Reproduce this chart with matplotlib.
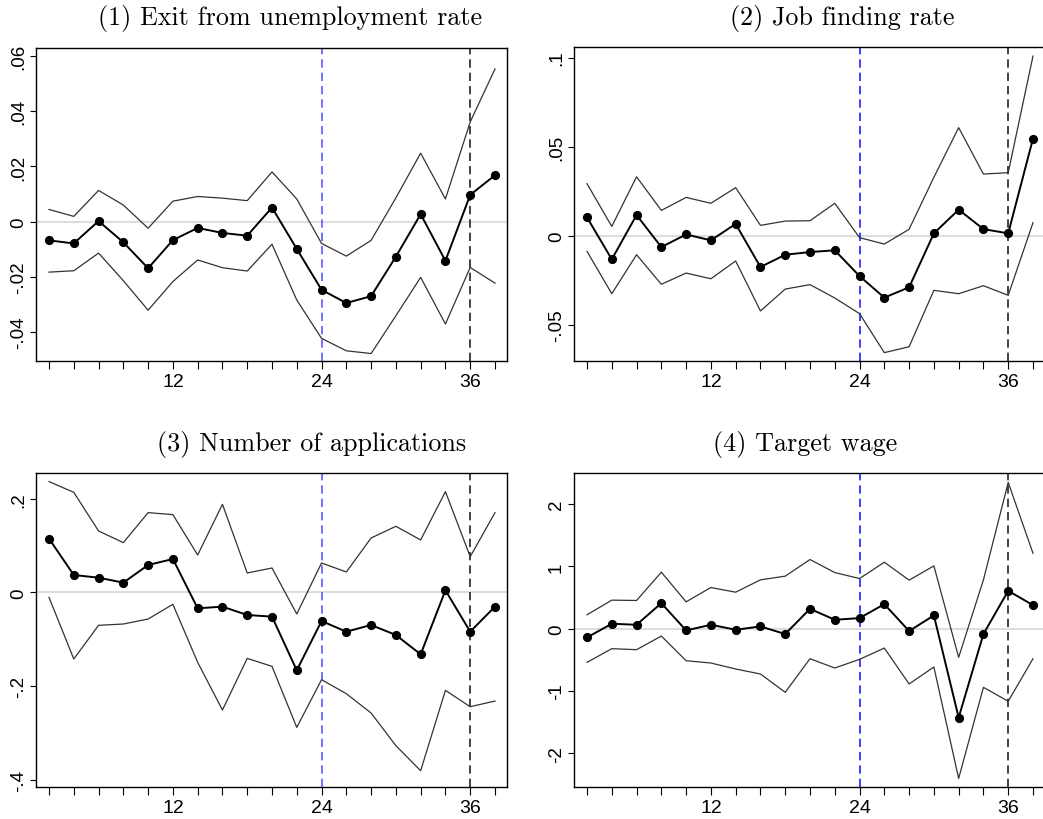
import matplotlib
matplotlib.use("Agg")
import matplotlib.pyplot as plt
import numpy as np

# months since start of unemployment
months = [2, 4, 6, 8, 10, 12, 14, 16, 18, 20, 22, 24, 26, 28, 30, 32, 34, 36, 38]

exit_coef = [-0.0068, -0.0079, 0.0002, -0.0075, -0.0169, -0.0067, -0.0023, -0.0041, -0.0051, 0.0051,
             -0.0099, -0.0247, -0.0295, -0.0270, -0.0127, 0.0027, -0.0142, 0.0097, 0.0168]
exit_hi = [0.0044, 0.0019, 0.0113, 0.0060, -0.0024, 0.0074, 0.0091, 0.0085, 0.0076, 0.0180,
           0.0082, -0.0079, -0.0125, -0.0068, 0.0086, 0.0248, 0.0082, 0.0361, 0.0553]
exit_lo = [-0.0183, -0.0178, -0.0114, -0.0214, -0.0321, -0.0217, -0.0139, -0.0167, -0.0179, -0.0082,
           -0.0284, -0.0423, -0.0468, -0.0478, -0.0341, -0.0202, -0.0371, -0.0166, -0.0223]

job_coef = [0.0103, -0.0133, 0.0116, -0.0064, 0.0007, -0.0026, 0.0066, -0.0176, -0.0107, -0.0092,
            -0.0082, -0.0227, -0.0348, -0.0290, 0.0013, 0.0146, 0.0037, 0.0013, 0.0545]
job_hi = [0.0292, 0.0052, 0.0331, 0.0142, 0.0215, 0.0182, 0.0270, 0.0058, 0.0082, 0.0084,
          0.0182, -0.0011, -0.0047, 0.0036, 0.0328, 0.0607, 0.0346, 0.0354, 0.1009]
job_lo = [-0.0088, -0.0326, -0.0107, -0.0273, -0.0210, -0.0242, -0.0142, -0.0423, -0.0300, -0.0275,
          -0.0350, -0.0438, -0.0657, -0.0624, -0.0307, -0.0326, -0.0281, -0.0335, 0.0073]

apps_coef = [0.1147, 0.0370, 0.0313, 0.0207, 0.0584, 0.0712, -0.0342, -0.0306, -0.0484, -0.0520,
             -0.1667, -0.0613, -0.0841, -0.0698, -0.0912, -0.1325, 0.0043, -0.0841, -0.0306]
apps_hi = [0.2366, 0.2137, 0.1311, 0.1062, 0.1703, 0.1660, 0.0798, 0.1881, 0.0413, 0.0520,
           -0.0463, 0.0627, 0.0435, 0.1161, 0.1411, 0.1119, 0.2152, 0.0762, 0.1703]
apps_lo = [-0.0107, -0.1425, -0.0705, -0.0677, -0.0570, -0.0256, -0.1496, -0.2515, -0.1411, -0.1582,
           -0.2886, -0.1867, -0.2166, -0.2579, -0.3277, -0.3812, -0.2095, -0.2444, -0.2323]

wage_coef = [-0.139, 0.080, 0.064, 0.411, -0.027, 0.064, -0.016, 0.037, -0.085, 0.320,
             0.144, 0.171, 0.395, -0.037, 0.214, -1.426, -0.085, 0.609, 0.379]
wage_hi = [0.224, 0.459, 0.454, 0.908, 0.432, 0.662, 0.587, 0.785, 0.844, 1.111,
           0.902, 0.806, 1.068, 0.780, 1.009, -0.459, 0.785, 2.349, 1.212]
wage_lo = [-0.539, -0.320, -0.336, -0.117, -0.513, -0.550, -0.646, -0.726, -1.020, -0.481,
           -0.630, -0.491, -0.310, -0.886, -0.614, -2.403, -0.940, -1.164, -0.481]

titles = ["(1) Exit from unemployment rate", "(2) Job finding rate",
          "(3) Number of applications", "(4) Target wage"]
ytick_vals = [[-0.04, -0.02, 0, 0.02, 0.04, 0.06], [-0.05, 0, 0.05, 0.1],
              [-0.4, -0.2, 0, 0.2], [-2, -1, 0, 1, 2]]
ytick_labels = [["-.04", "-.02", "0", ".02", ".04", ".06"], ["-.05", "0", ".05", ".1"],
                ["-.4", "-.2", "0", ".2"], ["-2", "-1", "0", "1", "2"]]
ylims = [(-0.0505, 0.0629), (-0.0704, 0.106), (-0.416, 0.255), (-2.54, 2.50)]
xlabel_ticks = [12, 24, 36]

series = [(exit_coef, exit_lo, exit_hi), (job_coef, job_lo, job_hi),
          (apps_coef, apps_lo, apps_hi), (wage_coef, wage_lo, wage_hi)]

W, H = 1043, 820
fig = plt.figure(figsize=(W / 100, H / 100), dpi=100)

# axes boxes in pixels: left, top, width, height
boxes = [(36, 49, 471, 313), (574, 48, 471, 314), (36, 474, 471, 314), (574, 474, 471, 314)]
title_pos = [(290, 18), (842, 18), (312, 445), (805, 445)]
blues = ["#5a5aff", "#2020ff", "#5a5aff", "#2020ff"]

for i in range(4):
	l, t, w, h = boxes[i]
	ax = fig.add_axes([l / W, 1 - (t + h) / H, w / W, h / H])
	coef, lo, hi = series[i]
	ax.axhline(0, color="#dddddd", lw=1.5, zorder=1)
	ax.axvline(24, color=blues[i], lw=1.2, ls=(0, (5, 3)), zorder=2)
	ax.axvline(36, color="#222222", lw=1.2, ls=(0, (5, 3)), zorder=2)
	ax.plot(months, hi, color="#333333", lw=0.9, zorder=3)
	ax.plot(months, lo, color="#333333", lw=0.9, zorder=3)
	ax.plot(months, coef, color="black", lw=1.4, marker="o", ms=5.6, zorder=4)
	ax.set_xlim(0.95, 38.97)
	ax.set_ylim(*ylims[i])
	ax.set_xticks(months)
	ax.set_xticklabels([str(m) if m in xlabel_ticks else "" for m in months],
	                   fontfamily="Liberation Sans", fontsize=14)
	ax.set_yticks(ytick_vals[i])
	ax.set_yticklabels(ytick_labels[i], rotation=90, va="center",
	                   fontfamily="Liberation Sans", fontsize=13.5)
	ax.tick_params(axis="x", direction="out", length=5.5, width=0.8, pad=3.5)
	ax.tick_params(axis="y", direction="out", length=4, width=0.8, pad=2.5)
	for s in ax.spines.values():
		s.set_linewidth(1.0)
	fig.text(title_pos[i][0] / W, 1 - title_pos[i][1] / H, titles[i],
	         ha="center", va="center", fontfamily="cmr10", fontsize=18.8)

fig.savefig("out.png", dpi=100)
